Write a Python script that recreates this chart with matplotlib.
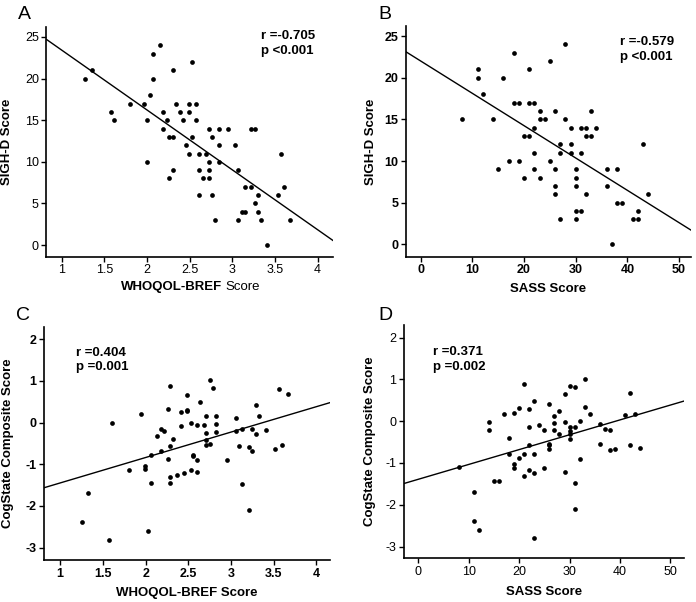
import numpy as np
import matplotlib
matplotlib.use('Agg')
import matplotlib.pyplot as plt

plt.rcParams['font.family'] = ['Liberation Sans', 'DejaVu Sans']

# WHOQOL-BREF vs SIGH-D (panel A)
whoqol_a = [1.27, 1.35, 1.58, 1.61, 1.80, 1.96, 2.00, 2.00, 2.03, 2.07, 2.07, 2.15,
            2.19, 2.19, 2.23, 2.26, 2.26, 2.30, 2.30, 2.30, 2.34, 2.38, 2.42, 2.46,
            2.49, 2.49, 2.49, 2.53, 2.53, 2.57, 2.57, 2.61, 2.61, 2.61, 2.65, 2.69,
            2.73, 2.73, 2.73, 2.73, 2.76, 2.76, 2.80, 2.84, 2.84, 2.84, 2.95, 3.03,
            3.07, 3.07, 3.11, 3.15, 3.15, 3.22, 3.26, 3.22, 3.26, 3.30, 3.30, 3.34,
            3.41, 3.53, 3.57, 3.60, 3.68]
sighd_a = [20, 21, 16, 15, 17, 17, 15, 10, 18, 20, 23, 24,
           16, 14, 15, 13, 8, 21, 13, 9, 17, 16, 15, 12,
           17, 16, 11, 22, 13, 17, 15, 11, 9, 6, 8, 11,
           14, 10, 9, 8, 13, 6, 3, 14, 12, 10, 14, 12,
           9, 3, 4, 4, 7, 14, 14, 7, 5, 6, 4, 3,
           0, 6, 11, 7, 3]

# SASS vs SIGH-D (panel B)
sass_b = [8, 11, 11, 12, 14, 15, 16, 17, 18, 18, 19, 19, 20, 20, 21, 21, 21, 22, 22,
          22, 22, 23, 23, 23, 24, 25, 25, 26, 26, 26, 26, 27, 27, 27, 28, 28, 29, 29,
          29, 30, 30, 30, 30, 30, 31, 31, 31, 32, 32, 32, 33, 33, 34, 36, 36, 37, 38,
          38, 39, 41, 42, 42, 43, 44]
sighd_b = [15, 21, 20, 18, 15, 9, 20, 10, 23, 17, 17, 10, 13, 8, 21, 17, 13, 17, 14,
           11, 9, 16, 15, 8, 15, 22, 10, 16, 9, 7, 6, 12, 11, 3, 24, 15, 14, 12,
           11, 9, 8, 7, 4, 3, 14, 11, 4, 14, 13, 6, 16, 13, 14, 9, 7, 0, 9,
           5, 5, 3, 4, 3, 12, 6]

# WHOQOL-BREF vs CogState composite (panel C)
whoqol_c = [1.26, 1.33, 1.57, 1.61, 1.80, 1.95, 1.99, 1.99, 2.03, 2.06, 2.06, 2.13,
            2.18, 2.18, 2.22, 2.26, 2.26, 2.29, 2.29, 2.29, 2.29, 2.32, 2.37, 2.41,
            2.41, 2.45, 2.49, 2.49, 2.49, 2.53, 2.53, 2.56, 2.56, 2.60, 2.60, 2.60,
            2.64, 2.68, 2.71, 2.71, 2.71, 2.71, 2.75, 2.75, 2.79, 2.83, 2.83, 2.83,
            2.95, 3.06, 3.06, 3.09, 3.13, 3.13, 3.21, 3.21, 3.25, 3.25, 3.29, 3.29,
            3.33, 3.41, 3.52, 3.56, 3.60, 3.67]
cog_c = [-2.38, -1.70, -2.81, -0.01, -1.13, 0.20, -1.04, -1.11, -2.61, -0.79, -1.44, -0.32,
         -0.16, -0.68, -0.20, 0.32, -0.88, 0.87, -0.56, -1.31, -1.44, -0.40, -1.25, 0.25,
         -0.09, -1.20, 0.65, 0.31, 0.28, 0.00, -1.14, -0.77, -0.80, -0.06, -0.90, -1.19,
         0.49, -0.06, 0.16, -0.24, -0.42, -0.54, 1.02, -0.52, 0.84, 0.16, -0.04, -0.22,
         -0.90, 0.11, -0.21, -0.56, -0.15, -1.47, -0.58, -2.11, -0.15, -0.68, 0.42, -0.28,
         0.16, -0.19, -0.63, 0.81, -0.55, 0.69]

# SASS vs CogState composite (panel D)
sass_d = [8, 11, 11, 12, 14, 14, 15, 16, 17, 18, 18, 19, 19, 19, 20, 20, 21, 21, 21,
          22, 22, 22, 22, 23, 23, 23, 23, 24, 25, 25, 26, 26, 26, 26, 28, 28, 27, 27,
          27, 29, 29, 29, 30, 30, 30, 30, 30, 31, 31, 31, 31, 32, 32, 33, 33, 34, 36,
          36, 37, 38, 38, 39, 41, 42, 42, 43, 44]
cog_d = [-1.10, -1.69, -2.38, -2.60, -0.02, -0.20, -1.44, -1.44, 0.17, -0.40, -0.78, 0.20,
         -1.03, -1.13, 0.32, -0.87, 0.88, -0.78, -1.31, 0.29, -0.15, -0.56, -1.18, 0.49,
         -0.79, -1.25, -2.80, -0.10, -0.22, -1.13, 0.40, -0.54, -0.58, -0.66, 0.25, -0.31,
         0.12, -0.05, -0.20, 0.65, -0.03, -1.21, 0.84, -0.15, -0.23, -0.31, -0.42, 0.81,
         -0.15, -1.48, -2.11, 0.00, -0.91, 1.01, 0.33, 0.17, -0.07, -0.55, -0.18, -0.21,
         -0.69, -0.66, 0.15, 0.68, -0.58, 0.17, -0.63]

# regression lines (slope, intercept)
fit_a = (-7.19, 30.6)
fit_b = (-0.388, 22.0)
fit_c = (0.61, -2.06)
fit_d = (0.0355, -1.39)

stats_a = 'r =-0.705\np <0.001'
stats_b = 'r =-0.579\np <0.001'
stats_c = 'r =0.404\np =0.001'
stats_d = 'r =0.371\np =0.002'

W, H = 696, 602
fig = plt.figure(figsize=(W / 100, H / 100), dpi=100)


def make_ax(l, r, t, b):
    return fig.add_axes([l / W, 1 - b / H, (r - l) / W, (b - t) / H])


def panel(ax, x, y, fit, xlim, ylim, xticks, yticks, stats, stats_pos,
          xlabel, ylabel, bold_ticks, ylab_x, xlab_y):
    ax.plot(x, y, 'o', color='black', markersize=3.4, markeredgewidth=0)
    xs = np.array(xlim)
    ax.plot(xs, fit[0] * xs + fit[1], color='black', lw=1.0)
    ax.set_xlim(xlim)
    ax.set_ylim(ylim)
    ax.set_xticks(xticks)
    ax.set_yticks(yticks)
    ax.set_xticklabels([('%g' % v) for v in xticks])
    ax.set_yticklabels([('%g' % v) for v in yticks])
    for s in ['top', 'right']:
        ax.spines[s].set_visible(False)
    for s in ['left', 'bottom']:
        ax.spines[s].set_linewidth(1.2)
    ax.tick_params(direction='out', length=3.5, width=1.0, labelsize=9, pad=2)
    if bold_ticks:
        for lab in ax.get_xticklabels() + ax.get_yticklabels():
            lab.set_fontweight('bold')
    ax.text(stats_pos[0], stats_pos[1], stats, transform=ax.transAxes,
            fontsize=9.5, fontweight='bold', va='top', ha='left', linespacing=1.3)
    ax.set_ylabel(ylabel, fontsize=9.5, fontweight='bold')
    ax.yaxis.set_label_coords(ylab_x, 0.5)
    if xlabel is not None:
        ax.set_xlabel(xlabel, fontsize=9.5, fontweight='bold')
        ax.xaxis.set_label_coords(0.5, xlab_y)


ax_a = make_ax(46.5, 333, 27, 256.7)
ax_b = make_ax(406, 691, 26, 256.7)
ax_c = make_ax(44, 330, 326.7, 560)
ax_d = make_ax(404, 684, 325, 558.3)

panel(ax_a, whoqol_a, sighd_a, fit_a, (0.82, 4.18), (-1.4, 26.2),
      [1, 1.5, 2, 2.5, 3, 3.5, 4], [0, 5, 10, 15, 20, 25], stats_a, (0.75, 0.985),
      None, 'SIGH-D Score', False, -0.118, -0.1)
ax_a.text(0.615, -0.105, 'WHOQOL-BREF', transform=ax_a.transAxes, fontsize=9.5,
          fontweight='bold', ha='right', va='top')
ax_a.text(0.625, -0.105, 'Score', transform=ax_a.transAxes, fontsize=9.5,
          ha='left', va='top')

panel(ax_b, sass_b, sighd_b, fit_b, (-2.84, 52.3), (-1.48, 26.2),
      [0, 10, 20, 30, 40, 50], [0, 5, 10, 15, 20, 25], stats_b, (0.75, 0.955),
      'SASS Score', 'SIGH-D Score', True, -0.103, -0.115)

panel(ax_c, whoqol_c, cog_c, fit_c, (0.81, 4.16), (-3.3, 2.3),
      [1, 1.5, 2, 2.5, 3, 3.5, 4], [-3, -2, -1, 0, 1, 2], stats_c, (0.112, 0.915),
      'WHOQOL-BREF Score', 'CogState Composite Score', True, -0.105, -0.115)

panel(ax_d, sass_d, cog_d, fit_d, (-2.84, 52.7), (-3.28, 2.3),
      [0, 10, 20, 30, 40, 50], [-3, -2, -1, 0, 1, 2], stats_d, (0.105, 0.91),
      'SASS Score', 'CogState Composite Score', False, -0.1, -0.12)

for lab, (x, y) in zip('ABCD', [(18, 6), (378, 6), (16, 307), (378, 307)]):
    fig.text(x / W, 1 - y / H, lab, fontsize=14, va='top', ha='left')

fig.savefig('out.png', dpi=100)
